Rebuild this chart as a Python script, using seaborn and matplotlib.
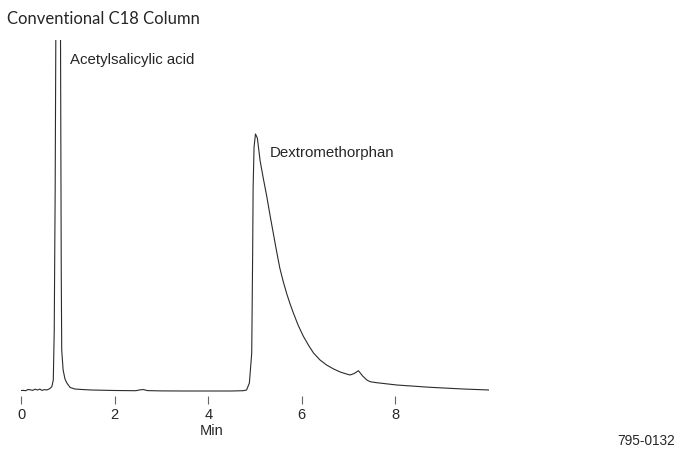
import matplotlib
matplotlib.use("Agg")
import matplotlib.pyplot as plt
import seaborn as sns
import pandas as pd

# Chromatogram trace (time in min, detector signal in arbitrary units)
time_min = [0.00, 0.05, 0.10, 0.15, 0.20, 0.25, 0.30, 0.35, 0.40, 0.45, 0.50, 0.55, 0.60,
            0.63, 0.66, 0.69, 0.71, 0.73, 0.75, 0.79, 0.84, 0.86, 0.87, 0.90, 0.94, 0.98,
            1.05, 1.15, 1.30, 1.50, 2.00, 2.45, 2.55, 2.62, 2.70, 3.00, 3.50, 4.00, 4.50,
            4.75, 4.82, 4.88, 4.93, 4.95, 4.96, 4.98, 5.01, 5.05, 5.11, 5.18, 5.25, 5.32,
            5.39, 5.46, 5.53, 5.60, 5.68, 5.75, 5.82, 5.92, 6.03, 6.14, 6.25, 6.39, 6.53,
            6.68, 6.82, 6.92, 7.03, 7.12, 7.21, 7.30, 7.39, 7.46, 7.60, 8.03, 8.74, 9.45,
            10.00]
signal = [0.5, 0.6, 0.3, 1.5, 1.2, 0.6, 1.8, 1.0, 1.9, 0.6, 1.4, 1.0, 2.0,
          3.0, 4.5, 11, 60, 200, 420, 800, 420, 120, 41, 21, 12, 8,
          3.5, 2.0, 1.5, 1.0, 0.5, 0.3, 1.2, 1.4, 0.4, 0.1, 0.0, 0.0, 0.0,
          0.3, 1.0, 8, 38, 138, 204, 244, 257, 253, 230, 212, 195, 176,
          158, 140, 123, 110, 97, 87, 78, 66, 55, 46, 38, 31, 26,
          22, 19, 17.5, 16, 17.5, 20.3, 15, 11, 9.3, 8.3, 6.0, 3.7, 2.0,
          1.0]

x_ticks = [0, 2, 4, 6, 8]
x_tick_labels = ["0", "2", "4", "6", "8"]
peak_names = ["Acetylsalicylic acid", "Dextromethorphan"]
title_text = "Conventional C18 Column"
axis_label = "Min"
figure_code = "795-0132"

df = pd.DataFrame({"time": time_min, "signal": signal})

sns.set_style("white")
plt.rcParams["font.family"] = ["Liberation Sans", "DejaVu Sans"]

W, H = 676, 450
fig = plt.figure(figsize=(W / 100, H / 100), dpi=100)
# axes: x 0 -> px 21, x 10 -> px 489 ; y: bottom px 396, top px 40
ax = fig.add_axes([21 / W, 1 - 396 / H, (489 - 21) / W, (396 - 40) / H])
sns.lineplot(data=df, x="time", y="signal", ax=ax, color="#2b2b2b",
             linewidth=0.8, sort=False, estimator=None)
ax.set_xlim(0, 10)
ax.set_ylim(-5, 351)
for sp in ax.spines.values():
    sp.set_visible(False)
ax.set_yticks([])
ax.set_xticks(x_ticks)
ax.set_xticklabels(x_tick_labels, fontsize=10.5)
ax.tick_params(axis="x", direction="out", length=5.5, width=0.8, color="#666666",
               pad=3, bottom=True)
ax.set_xlabel("")
ax.set_ylabel("")

ax.text(4.08, -40, axis_label, fontsize=10.5, ha="center", va="center")
ax.text(1.05, 331, peak_names[0], fontsize=10.8, ha="left", va="center")
ax.text(5.32, 238, peak_names[1], fontsize=10.8, ha="left", va="center")

fig.text(7 / W, 1 - 19 / H, title_text, fontsize=12, family="Lato",
         ha="left", va="center")
fig.text(675 / W, 1 - 441 / H, figure_code, fontsize=9.8, ha="right", va="center")

fig.savefig("out.png", dpi=100)
